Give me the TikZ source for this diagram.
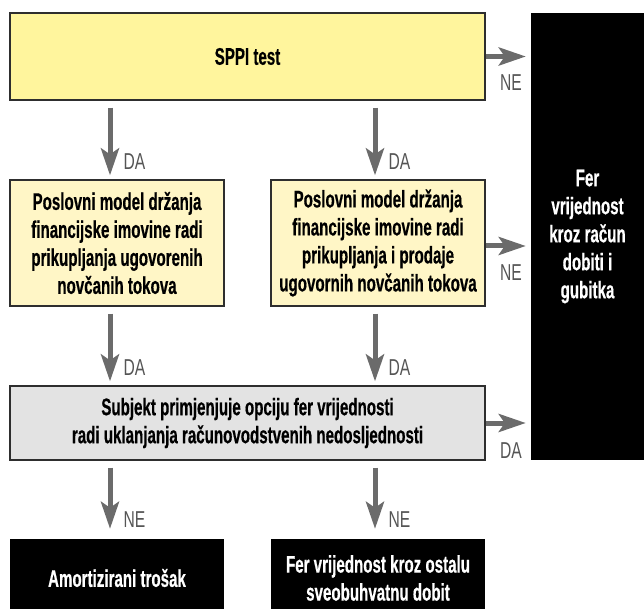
\documentclass[tikz,border=0pt]{standalone}
\usepackage{fontspec}
\usetikzlibrary{arrows.meta}
\newfontfamily\boxfont[FakeStretch=0.63,BoldFeatures={FakeBold=0.5}]{Liberation Sans}
\newfontfamily\labfont[FakeStretch=0.68]{Liberation Sans}
\definecolor{sppiyel}{HTML}{FFF59D}
\definecolor{modyel}{HTML}{FFF6C6}
\definecolor{optgray}{HTML}{E3E3E3}
\definecolor{arrgray}{HTML}{6B6B6B}
\definecolor{labgray}{HTML}{555555}
\definecolor{edgegray}{HTML}{2E2E2E}
\begin{document}
\begin{tikzpicture}[x=1pt,y=-1pt,
    box/.style={draw=edgegray,line width=1.2pt,inner sep=0pt,align=center,
      font=\boxfont\bfseries\fontsize{24}{28}\selectfont},
    result/.style={fill=black,inner sep=0pt,align=center,text=white,
      font=\boxfont\bfseries\fontsize{24}{28}\selectfont},
    flow/.style={draw=arrgray,line width=5pt,-{Stealth[length=27pt,width=18pt,inset=6pt]}},
    yn/.style={text=labgray,inner sep=0pt,font=\labfont\fontsize{23}{23}\selectfont}]
    \useasboundingbox (0,0) rectangle (644,609);
    % prvi red: SPPI test i rezultat desno
    \node[box,fill=sppiyel,minimum width=475pt,minimum height=87pt] (sppi) at (247.5,56.5) {SPPI test};
    \node[result,minimum width=113pt,minimum height=447pt] (fvpl) at (587.5,236.5)
        {Fer\\vrijednost\\kroz račun\\dobiti i\\gubitka};
    % drugi red: poslovni modeli
    \node[box,fill=modyel,minimum width=214pt,minimum height=126pt] (hold) at (117,243)
        {Poslovni model držanja\\financijske imovine radi\\prikupljanja ugovorenih\\novčanih tokova};
    \node[box,fill=modyel,minimum width=214pt,minimum height=126pt] (holdsell) at (378,243)
        {Poslovni model držanja\\financijske imovine radi\\prikupljanja i prodaje\\ugovornih novčanih tokova};
    % opcija fer vrijednosti
    \node[box,fill=optgray,minimum width=475pt,minimum height=74pt] (fvo) at (247.5,423)
        {Subjekt primjenjuje opciju fer vrijednosti\\radi uklanjanja računovodstvenih nedosljednosti};
    % rezultati dolje
    \node[result,minimum width=214pt,minimum height=78pt] (amort) at (117,578) {Amortizirani trošak};
    \node[result,minimum width=214pt,minimum height=78pt] (fvoci) at (378,578)
        {Fer vrijednost kroz ostalu\\sveobuhvatnu dobit};
    % tocke za okomite strelice
    \coordinate (hl) at ([xshift=-7pt]hold.north);
    \coordinate (hr) at ([xshift=-3pt]holdsell.north);
    \coordinate (al) at ([xshift=-7pt]amort.north);
    \coordinate (ar) at ([xshift=-3pt]fvoci.north);
    % okomite strelice
    \draw[flow,shorten <=7pt,shorten >=4pt] (hl |- sppi.south) -- (hl)
        node[yn,at end,anchor=base west,xshift=11pt,yshift=10pt] {DA};
    \draw[flow,shorten <=7pt,shorten >=4pt] (hr |- sppi.south) -- (hr)
        node[yn,at end,anchor=base west,xshift=11pt,yshift=10pt] {DA};
    \draw[flow,shorten <=7pt,shorten >=4pt] (hl |- hold.south) -- (hl |- fvo.north)
        node[yn,at end,anchor=base west,xshift=11pt,yshift=10pt] {DA};
    \draw[flow,shorten <=7pt,shorten >=4pt] (hr |- holdsell.south) -- (hr |- fvo.north)
        node[yn,at end,anchor=base west,xshift=11pt,yshift=10pt] {DA};
    \draw[flow,shorten <=7pt,shorten >=10pt] (al |- fvo.south) -- (al)
        node[yn,at end,anchor=base west,xshift=11pt,yshift=11pt] {NE};
    \draw[flow,shorten <=7pt,shorten >=10pt] (ar |- fvo.south) -- (ar)
        node[yn,at end,anchor=base west,xshift=11pt,yshift=11pt] {NE};
    % vodoravne strelice prema fer vrijednosti
    \draw[flow,shorten >=5pt] (sppi.east) -- (sppi.east -| fvpl.west)
        node[yn,at start,anchor=base west,xshift=12pt,yshift=-34pt] {NE};
    \draw[flow,shorten >=5pt] ([yshift=-3pt]holdsell.east) -- ([yshift=-3pt]holdsell.east -| fvpl.west)
        node[yn,at start,anchor=base west,xshift=12pt,yshift=-34pt] {NE};
    \draw[flow,shorten >=5pt] (fvo.east) -- (fvo.east -| fvpl.west)
        node[yn,at start,anchor=base west,xshift=12pt,yshift=-35pt] {DA};
\end{tikzpicture}
\end{document}
